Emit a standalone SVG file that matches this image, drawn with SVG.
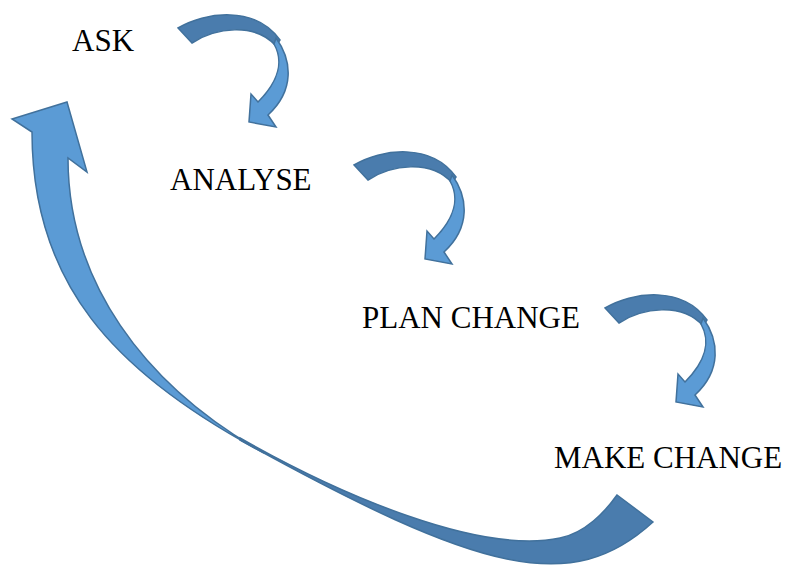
<svg xmlns="http://www.w3.org/2000/svg" xmlns:xlink="http://www.w3.org/1999/xlink" width="789" height="566" viewBox="0 0 789 566">
<style>
.label{font-family:"Liberation Serif","Times New Roman",serif;font-size:31px;fill:#000}
.front{fill:#5B9BD5;stroke:#41719C;stroke-width:1.5;stroke-linejoin:miter}
.back{fill:#4A7CAD;stroke:#41719C;stroke-width:1.5;stroke-linejoin:miter}
</style>
<defs>
<g id="curl">
<path class="back" d="M178,28 C205,12 255,5 280,40 L276,46 C255,22 215,28 192,43 Z"/>
<path class="front" d="M276,38 C292,60 295,90 268,115 L276,127 L249,122 L251,94 L258,102 C280,80 283,60 274,44 Z"/>
</g>
</defs>
<rect width="789" height="566" fill="#fff"/>
<g id="connectors">
<use xlink:href="#curl" href="#curl"/>
<use xlink:href="#curl" href="#curl" transform="translate(176,137)"/>
<use xlink:href="#curl" href="#curl" transform="translate(427,280)"/>
<g id="return-arrow">
<path class="back" d="M240,438 C340,495 480,555 560,538 C585,533 605,512 617,495 L653,522 C572,596 482,574 240,440 Z"/>
<path class="front" d="M264,453 C142,384 68,280 68,158 L87,172 L67,102 L12,119 L32,132 C32,282 112,372 264,453 Z"/>
</g>
</g>
<g id="node-ask"><text class="label" x="72" y="51">ASK</text></g>
<g id="node-analyse"><text class="label" x="170" y="190">ANALYSE</text></g>
<g id="node-plan-change"><text class="label" x="362" y="328">PLAN CHANGE</text></g>
<g id="node-make-change"><text class="label" x="554" y="468">MAKE CHANGE</text></g>
</svg>
